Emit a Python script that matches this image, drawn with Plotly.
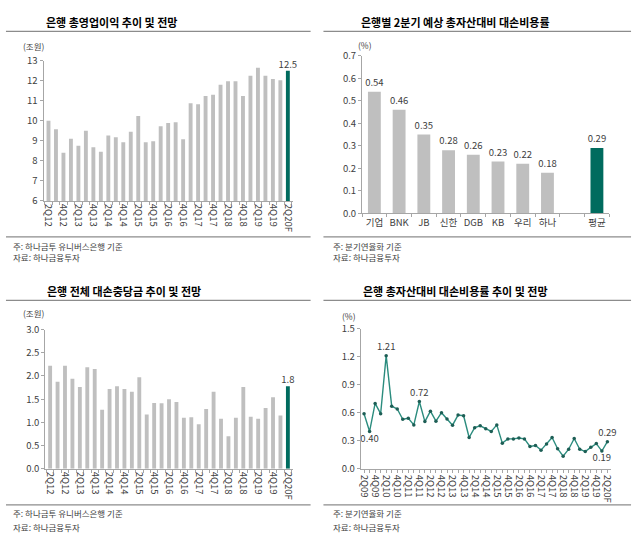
import plotly.graph_objects as go

FONT = "Noto Sans CJK KR"
W, H = 639, 545
GRAY = "#bfbfbf"
GREEN = "#006b5e"
LINE = "#2b8c7e"
DOT = "#1d5e55"
AX = "#a6a6a6"
TXT = "#404040"

# ---------------- data ----------------
quarters_12 = ["2Q12", "3Q12", "4Q12", "1Q13", "2Q13", "3Q13", "4Q13", "1Q14", "2Q14", "3Q14",
               "4Q14", "1Q15", "2Q15", "3Q15", "4Q15", "1Q16", "2Q16", "3Q16", "4Q16", "1Q17",
               "2Q17", "3Q17", "4Q17", "1Q18", "2Q18", "3Q18", "4Q18", "1Q19", "2Q19", "3Q19",
               "4Q19", "1Q20", "2Q20F"]
op_income = [10.0, 9.57, 8.4, 9.1, 8.75, 9.5, 8.68, 8.45, 9.26, 9.18,
             8.93, 9.45, 10.24, 8.93, 8.98, 9.72, 9.89, 9.92, 9.08, 10.87,
             10.82, 11.23, 11.3, 11.79, 11.97, 11.97, 11.23, 12.24, 12.65, 12.24,
             12.08, 12.02, 12.5]
provisions = [2.22, 1.875, 2.22, 1.94, 1.76, 2.19, 2.15, 1.27, 1.72, 1.78,
              1.72, 1.66, 1.97, 1.17, 1.42, 1.41, 1.5, 1.44, 1.10, 1.11,
              0.96, 1.29, 1.66, 1.08, 0.70, 1.10, 1.76, 1.12, 1.08, 1.31,
              1.54, 1.15, 1.78]

banks = ["기업", "BNK", "JB", "신한", "DGB", "KB", "우리", "하나", " ", "평균"]
bank_cost = [0.54, 0.46, 0.35, 0.28, 0.26, 0.23, 0.22, 0.18, None, 0.29]

quarters_09 = ["2Q09", "3Q09", "4Q09", "1Q10", "2Q10", "3Q10", "4Q10", "1Q11", "2Q11", "3Q11",
               "4Q11", "1Q12", "2Q12", "3Q12", "4Q12", "1Q13", "2Q13", "3Q13", "4Q13", "1Q14",
               "2Q14", "3Q14", "4Q14", "1Q15", "2Q15", "3Q15", "4Q15", "1Q16", "2Q16", "3Q16",
               "4Q16", "1Q17", "2Q17", "3Q17", "4Q17", "1Q18", "2Q18", "3Q18", "4Q18", "1Q19",
               "2Q19", "3Q19", "4Q19", "1Q20", "2Q20F"]
credit_cost = [0.59, 0.40, 0.70, 0.59, 1.21, 0.67, 0.64, 0.53, 0.54, 0.47,
               0.72, 0.505, 0.617, 0.51, 0.60, 0.533, 0.467, 0.575, 0.568, 0.335,
               0.44, 0.46, 0.43, 0.40, 0.47, 0.275, 0.32, 0.32, 0.33, 0.32,
               0.24, 0.25, 0.20, 0.265, 0.335, 0.215, 0.135, 0.21, 0.325, 0.21,
               0.185, 0.23, 0.27, 0.19, 0.29]
line_labels = {"3Q09": ("0.40", "bottom center"), "2Q10": ("1.21", "top center"),
               "4Q11": ("0.72", "top center"), "1Q20": ("0.19", "bottom center"),
               "2Q20F": ("0.29", "top center")}


def fx(x):
    return x / W


def fy(y):
    return 1 - y / H


fig = go.Figure()

# ---- panel 1: operating income
n1 = len(op_income)
fig.add_trace(go.Bar(
    x=quarters_12, y=op_income, xaxis="x", yaxis="y",
    marker=dict(color=[GRAY] * (n1 - 1) + [GREEN], line=dict(width=0)), width=0.52,
    text=[""] * (n1 - 1) + [f"{op_income[-1]:.1f}"], textposition="outside",
    constraintext="none", cliponaxis=False,
    textfont=dict(family=FONT, size=9.5, color=TXT), showlegend=False))

# ---- panel 2: bank credit costs
fig.add_trace(go.Bar(
    x=banks, y=bank_cost, xaxis="x2", yaxis="y2",
    marker=dict(color=[GRAY] * 9 + [GREEN], line=dict(width=0)), width=0.52,
    text=[f"{v:.2f}" if v is not None else "" for v in bank_cost], textposition="outside",
    constraintext="none", cliponaxis=False,
    textfont=dict(family=FONT, size=9.5, color=TXT), showlegend=False))

# ---- panel 3: provisions
n3 = len(provisions)
fig.add_trace(go.Bar(
    x=quarters_12, y=provisions, xaxis="x3", yaxis="y3",
    marker=dict(color=[GRAY] * (n3 - 1) + [GREEN], line=dict(width=0)), width=0.52,
    text=[""] * (n3 - 1) + [f"{provisions[-1]:.1f}"], textposition="outside",
    constraintext="none", cliponaxis=False,
    textfont=dict(family=FONT, size=9.5, color=TXT), showlegend=False))

# ---- panel 4: credit cost line
fig.add_trace(go.Scatter(
    x=quarters_09, y=credit_cost, xaxis="x4", yaxis="y4",
    mode="lines+markers+text",
    line=dict(color=LINE, width=1.4),
    marker=dict(color=DOT, size=3.5),
    text=[line_labels[q][0] if q in line_labels else "" for q in quarters_09],
    textposition=[line_labels[q][1] if q in line_labels else "top center" for q in quarters_09],
    textfont=dict(family=FONT, size=9.5, color=TXT), cliponaxis=False, showlegend=False))

tickfont = dict(family=FONT, size=9.5, color=TXT)


def xax(domain, rng, step=None, angle=0, bound=True):
    d = dict(domain=[fx(domain[0]), fx(domain[1])], type="category", range=rng,
             tickmode="linear", tick0=0, dtick=1,
             showline=True, linecolor=AX, linewidth=1, ticks="outside", ticklen=3,
             tickcolor=AX, tickfont=tickfont, showgrid=False, zeroline=False,
             tickangle=angle, fixedrange=True)
    if step:
        d["ticklabelstep"] = step
    if bound:
        d["tickson"] = "boundaries"
    return d


def yax(ytop, ybot, rng, dtick, fmt):
    return dict(domain=[fy(ybot), fy(ytop)], range=rng, dtick=dtick, tickformat=fmt,
                showline=True, linecolor=AX, linewidth=1, ticks="outside", ticklen=3,
                tickcolor=AX, tickfont=tickfont, showgrid=False, zeroline=False,
                fixedrange=True)


fig.update_layout(
    width=W, height=H, autosize=False,
    margin=dict(l=0, r=0, t=0, b=0),
    paper_bgcolor="white", plot_bgcolor="white",
    font=dict(family=FONT, size=9.5, color=TXT),
    xaxis=dict(anchor="y", **xax((41, 293), [-0.66, 32.66], step=2, angle=90)),
    yaxis=dict(anchor="x", **yax(54, 198, [6, 13], 1, "d")),
    xaxis2=dict(anchor="y2", **xax((363, 613), [-0.5, 9.5])),
    yaxis2=dict(anchor="x2", **yax(49, 210.7, [0, 0.7], 0.1, ".1f")),
    xaxis3=dict(anchor="y3", **xax((42.7, 293), [-0.66, 32.66], step=2, angle=90)),
    yaxis3=dict(anchor="x3", **yax(330, 473, [0, 3], 0.5, ".1f")),
    xaxis4=dict(anchor="y4", **xax((361.7, 615), [-0.6, 44.7], step=2, angle=90, bound=False)),
    yaxis4=dict(anchor="x4", **yax(329, 473, [0, 1.5], 0.3, ".1f")),
)

anns = []


def txt(x, y, s, size=8.5, bold=False, xanchor="left"):
    anns.append(dict(x=fx(x), y=fy(y), xref="paper", yref="paper", text=f"<b>{s}</b>" if bold else s,
                     showarrow=False, xanchor=xanchor, yanchor="middle",
                     font=dict(family=FONT, size=size, color="#000000" if bold else TXT)))


# titles
txt(110, 14, "은행 총영업이익 추이 및 전망", 11, True, "center")
txt(458, 14, "은행별 2분기 예상 총자산대비 대손비용률", 11, True, "center")
txt(122, 290, "은행 전체 대손충당금 추이 및 전망", 11, True, "center")
txt(458, 290, "은행 총자산대비 대손비용률 추이 및 전망", 11, True, "center")
# units
txt(18, 39, "(조원)")
txt(357, 38, "(%)")
txt(18, 313, "(조원)")
txt(341, 316, "(%)")
# footnotes
txt(8, 244, "주: 하나금투 유니버스은행 기준")
txt(8, 256, "자료: 하나금융투자")
txt(332, 244, "주: 분기연율화 기준")
txt(332, 256, "자료: 하나금융투자")
txt(8, 518, "주: 하나금투 유니버스은행 기준")
txt(8, 533, "자료: 하나금융투자")
txt(332, 518, "주: 분기연율화 기준")
txt(332, 533, "자료: 하나금융투자")

shapes = []


def hline(x0, x1, y):
    shapes.append(dict(type="line", xref="paper", yref="paper", x0=fx(x0), x1=fx(x1),
                       y0=fy(y), y1=fy(y), line=dict(color="#8c8c8c", width=1.3)))


hline(3, 311, 24)
hline(324, 635, 24)
hline(3, 311, 235)
hline(324, 635, 235)
hline(3, 311, 300)
hline(324, 635, 300)
hline(3, 311, 510)
hline(324, 635, 510)

fig.update_layout(annotations=anns, shapes=shapes)

fig.write_html("out.html", config={"displayModeBar": False},
               post_script="document.body.style.margin='0';document.body.style.overflow='hidden';")
